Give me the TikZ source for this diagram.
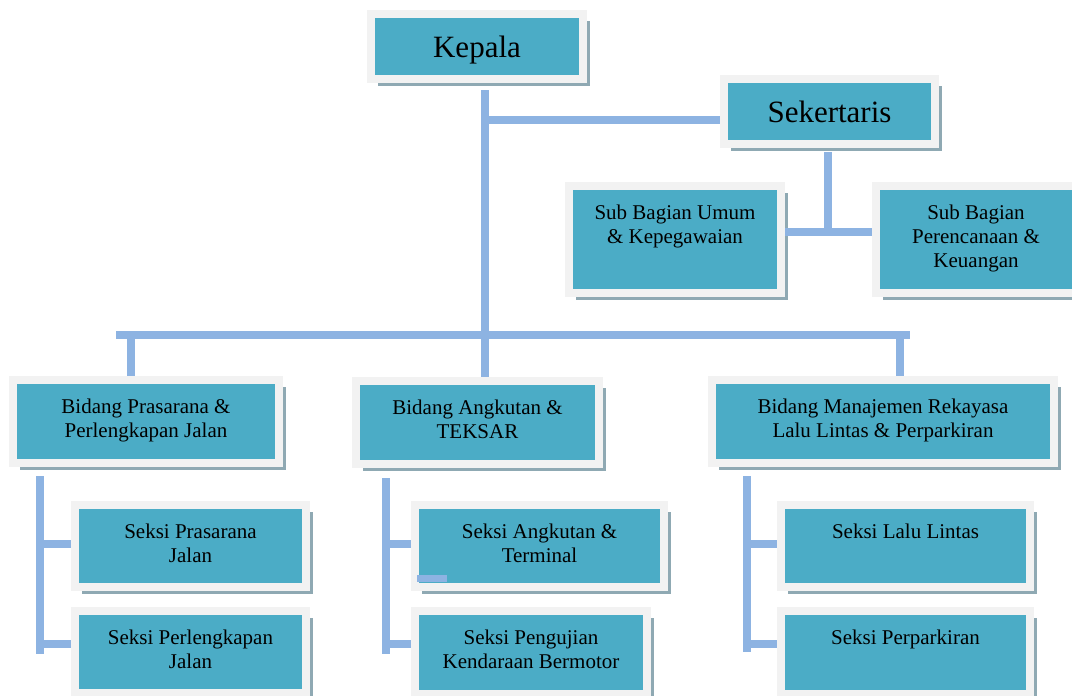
\documentclass[tikz,border=0pt]{standalone}
\usepackage{fontspec}
\setmainfont{Liberation Serif}
\usetikzlibrary{positioning,shadows}
\definecolor{unitfill}{HTML}{4BACC6}
\definecolor{frame}{HTML}{F2F2F2}
\definecolor{shade}{HTML}{8FA9B3}
\definecolor{wire}{HTML}{8DB3E2}

\begin{document}
\begin{tikzpicture}[x=1pt,y=-1pt,
  unit/.style={draw=frame,fill=unitfill,line width=8pt,inner sep=0pt,
    drop shadow={shadow xshift=7pt,shadow yshift=-7pt,fill=shade,opacity=1}},
  head/.style={font=\fontsize{31}{36}\selectfont,text depth=0pt},
  caption/.style={anchor=north,align=center,inner sep=0pt,
    font=\fontsize{21}{24}\selectfont},
  wire/.style={draw=wire,line width=8pt}
]
\path[use as bounding box,fill=white] (0,0) rectangle (1072,696);

% top level
\node[unit,head,minimum width=212pt,minimum height=65pt] (kepala) at (477,46.5) {Kepala};
\node[unit,head,minimum width=211pt,minimum height=65pt] (sekertaris) at (829.5,111.5) {Sekertaris};
\node[unit,minimum width=212pt,minimum height=107pt] (umum) at (675,239.5) {};
\node[unit,minimum width=200pt,minimum height=107pt] (perencanaan) at (976,239.5) {};
\node[caption] (umum-t) at ([yshift=-22.5pt]umum.north) {Sub Bagian Umum\\\& Kepegawaian};
\node[caption] (perencanaan-t) at ([yshift=-22.5pt]perencanaan.north) {Sub Bagian\\Perencanaan \&\\Keuangan};

% bidang
\node[unit,minimum width=266pt,minimum height=83pt] (prasarana) at (146,421.5) {};
\node[unit,minimum width=243pt,minimum height=83pt] (angkutan) at (477.5,422.5) {};
\node[unit,minimum width=342pt,minimum height=83pt] (manajemen) at (883,421.5) {};
\node[caption] (prasarana-t) at ([yshift=-22.5pt]prasarana.north) {Bidang Prasarana \&\\Perlengkapan Jalan};
\node[caption] (angkutan-t) at ([yshift=-22.5pt]angkutan.north) {Bidang Angkutan \&\\TEKSAR};
\node[caption] (manajemen-t) at ([yshift=-22.5pt]manajemen.north) {Bidang Manajemen Rekayasa\\Lalu Lintas \& Perparkiran};

% seksi
\node[unit,minimum width=231pt,minimum height=82pt] (spj) at (190.5,546) {};
\node[unit,minimum width=231pt,minimum height=82pt,below=16pt of spj] (spl) {};
\node[unit,minimum width=249pt,minimum height=82pt] (sat) at (539.5,546) {};
\node[unit,minimum width=232pt,minimum height=83pt,below=16pt of sat.south west,anchor=north west] (spk) {};
\node[unit,minimum width=249pt,minimum height=82pt] (sll) at (905.5,546) {};
\node[unit,minimum width=249pt,minimum height=83pt,below=16pt of sll] (spr) {};
\node[caption] (spj-t) at ([yshift=-22.5pt]spj.north) {Seksi Prasarana\\Jalan};
\node[caption] (spl-t) at ([yshift=-22.5pt]spl.north) {Seksi Perlengkapan\\Jalan};
\node[caption] (sat-t) at ([yshift=-22.5pt]sat.north) {Seksi Angkutan \&\\Terminal};
\node[caption] (spk-t) at ([yshift=-22.5pt]spk.north) {Seksi Pengujian\\Kendaraan Bermotor};
\node[caption] (sll-t) at ([yshift=-22.5pt]sll.north) {Seksi Lalu Lintas};
\node[caption] (spr-t) at ([yshift=-22.5pt]spr.north) {Seksi Perparkiran};

% connectors
\coordinate (spine) at (485,90);
\coordinate (sek-in) at (485,120);
\coordinate (bus-l) at (116,335);
\coordinate (bus-r) at (910,335);
\coordinate (drop-l) at (131,335);
\coordinate (drop-r) at (900,335);
\coordinate (sub-j) at (828,232);
\draw[wire] (spine) -- (spine |- angkutan.north);
\draw[wire] (sek-in) -- (sek-in -| sekertaris.west);
\draw[wire] (bus-l) -- (bus-r);
\draw[wire] (drop-l) -- (drop-l |- prasarana.north);
\draw[wire] (drop-r) -- (drop-r |- manajemen.north);
\draw[wire] ([yshift=-4pt]sub-j |- sekertaris.south) -- (sub-j);
\draw[wire] (umum.east |- sub-j) -- (perencanaan.west |- sub-j);

\foreach \rail/\top/\bottom/\upper/\lower in {40/476/654/spj/spl,385.5/478/654/sat/spk,747/476/652/sll/spr}{
  \draw[wire] (\rail,\top) -- (\rail,\bottom);
  \draw[wire] (\rail,543.5) -- (\upper.west |- 0,543.5);
  \draw[wire] (\rail,643.5) -- (\lower.west |- 0,643.5);
}
\coordinate (stray) at (417,578.5);
\draw[wire,line width=7pt] (stray) -- ++(30,0);
\end{tikzpicture}
\end{document}
